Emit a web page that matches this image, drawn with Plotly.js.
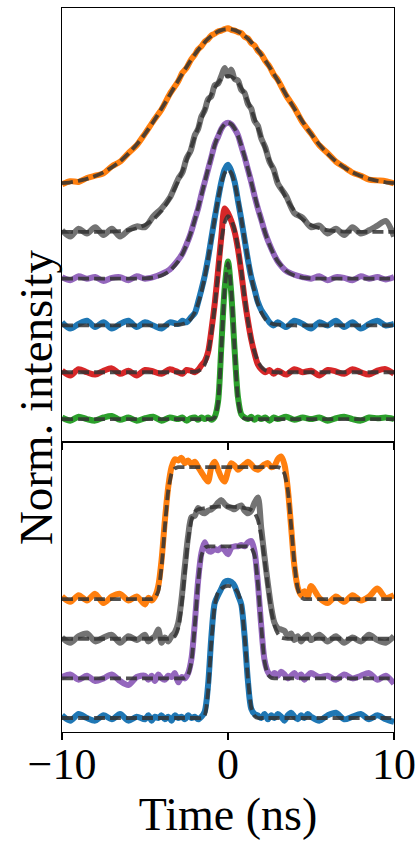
<!DOCTYPE html>
<html><head><meta charset="utf-8">
<script src="https://cdn.plot.ly/plotly-3.0.1.min.js"></script>
<style>html,body{margin:0;padding:0;background:#fff;}#chart{width:420px;height:842px;}</style>
</head><body><div id="chart"></div>
<script>
// ---------- TOP PANEL (Gaussian pulses) ----------
const tTop = [-10,-9.5,-9,-8.5,-8,-7.5,-7,-6.5,-6,-5.5,-5,-4.5,-4,-3.5,-3,
  -2.75,-2.5,-2.25,
  -2,-1.8,-1.6,-1.4,-1.2,-1,-0.8,-0.6,-0.4,-0.2,0,0.2,0.4,0.6,0.8,1,1.2,1.4,1.6,1.8,2,
  2.25,2.5,2.75,
  3,3.5,4,4.5,5,5.5,6,6.5,7,7.5,8,8.5,9,9.5,10];

const topOffsets = [0, 0.3, 0.6, 0.9, 1.2, 1.5]; // green, red, blue, purple, gray, orange

const greenFit = [0,0,0,0,0,0,0,0,0,0,0,0,0,0,0,
  0,0,0,
  0,0,0,0,0,0,.01,.10,.45,.83,1,.82,.45,.13,.02,.003,0,0,0,0,0,
  0,0,0,
  0,0,0,0,0,0,0,0,0,0,0,0,0,0,0];
const greenData = [.01,-.01,.015,0,-.01,.01,.02,-.005,.01,-.01,.005,.015,-.01,.01,0,
  .01,-.01,.005,
  .01,-.005,.01,0,.01,-.005,.015,.11,.47,.84,1.01,.80,.44,.14,.03,.01,0,.015,-.005,.01,0,
  .01,-.01,.01,
  0,.015,-.005,.01,0,.01,-.01,.005,.015,0,-.01,.01,.005,.01,0];

const redFit = [0,0,0,0,0,0,0,0,0,0,0,0,0,0,0,
  0,.001,.002,
  .003,.008,.02,.05,.12,.25,.42,.63,.84,.96,1,.975,.91,.80,.65,.48,.33,.21,.13,.07,.035,
  .012,.004,.001,
  0,0,0,0,0,0,0,0,0,0,0,0,0,0,0];
const redData = [.01,-.02,.02,0,-.015,.01,.025,-.01,.01,-.02,.015,.005,-.01,.02,0,
  -.01,.015,.01,
  0,.015,.045,.07,.13,.27,.44,.65,.87,1.05,1.02,.97,.90,.79,.64,.47,.33,.21,.12,.05,.02,
  0,.015,-.01,
  .01,-.015,.02,0,.01,-.02,.015,.005,-.01,.02,0,-.015,.01,.02,-.01];

const blueFit = [0,0,0,0,0,0,0,0,0,0,0,0,0,.001,.005,
  .008,.018,.04,
  .085,.14,.215,.31,.425,.553,.685,.808,.91,.977,1,.977,.91,.808,.685,.553,.425,.31,.215,.14,.085,
  .04,.018,.008,
  .005,.001,0,0,0,0,0,0,0,0,0,0,0,0,0];
const blueData = [.02,-.02,.01,.03,-.01,.02,-.02,.01,.03,-.01,.02,0,-.02,.02,.01,
  .03,.02,.05,
  .08,.15,.23,.32,.43,.56,.69,.81,.92,1.0,1.03,.99,.92,.80,.68,.55,.42,.31,.23,.15,.10,
  .06,.02,0,
  .02,-.01,.03,.01,-.02,.02,0,.03,-.01,.02,-.02,.01,.03,0,.01];

const purpleFit = [0,0,0,0,0,0,0,0,0,0,.002,.007,.02,.05,.111,
  .157,.217,.29,
  .376,.453,.535,.619,.703,.783,.855,.916,.962,.99,1,.99,.962,.916,.855,.783,.703,.619,.535,.453,.376,
  .29,.217,.157,
  .111,.05,.02,.007,.002,0,0,0,0,0,0,0,0,0,0];
const purpleData = [.01,-.01,.015,0,.01,-.015,.005,.01,-.01,.015,0,.01,.03,.06,.12,
  .16,.22,.29,
  .38,.45,.54,.62,.70,.78,.86,.91,.96,.99,1.0,.99,.96,.92,.85,.78,.70,.62,.53,.45,.38,
  .29,.22,.16,
  .11,.05,.025,.01,0,.015,-.01,.01,.005,-.01,.015,0,.01,-.005,.01];

const grayFit = [0,0,0,0,0,.001,.002,.005,.011,.023,.044,.080,.135,.216,.325,
  .389,.458,.531,
  .607,.667,.726,.783,.835,.882,.923,.956,.980,.995,1,.995,.980,.956,.923,.882,.835,.783,.726,.667,.607,
  .531,.458,.389,
  .325,.216,.135,.080,.044,.023,.011,.005,.002,.001,0,0,0,0,0];
const grayData = [.01,-.03,.02,-.01,.03,-.02,.02,-.03,.01,.035,.03,.10,.15,.22,.34,
  .38,.47,.52,
  .62,.66,.74,.78,.85,.87,.94,.95,1.0,1.05,1.0,1.04,.98,.97,.91,.89,.82,.79,.71,.68,.60,
  .54,.45,.40,
  .31,.23,.12,.09,.03,.04,-.01,.02,-.02,.03,-.01,.01,.04,.07,-.03];

const orangeFit = [.012,.018,.027,.040,.058,.082,.113,.152,.201,.260,.328,.406,.490,.579,.670,
  .714,.757,.798,
  .837,.866,.892,.916,.938,.956,.972,.984,.993,.998,1,.998,.993,.984,.972,.956,.938,.916,.892,.866,.837,
  .798,.757,.714,
  .670,.579,.490,.406,.328,.260,.201,.152,.113,.082,.058,.040,.027,.018,.012];
const orangeData = [.005,.025,.02,.045,.06,.075,.12,.15,.205,.255,.33,.41,.485,.585,.665,
  .72,.75,.80,
  .835,.87,.89,.92,.935,.96,.97,.985,.99,1.0,1.005,.995,.99,.98,.975,.95,.94,.91,.895,.86,.84,
  .795,.76,.71,
  .675,.575,.495,.40,.33,.255,.205,.15,.115,.08,.06,.035,.03,.025,.01];

// ---------- BOTTOM PANEL (flat-top pulses) ----------
const tBot = [-10,-9.5,-9,-8.5,-8,-7.5,-7,-6.5,-6,-5.5,-5,
  -4.8,-4.6,-4.4,-4.2,-4.0,-3.8,-3.6,-3.4,-3.2,-3.0,
  -2.8,-2.6,-2.4,-2.2,-2.0,-1.8,-1.6,-1.4,-1.2,-1.0,
  -0.8,-0.6,-0.4,-0.2,0,0.2,0.4,0.6,0.8,1.0,
  1.2,1.4,1.6,1.8,2.0,2.2,2.4,2.6,2.8,3.0,
  3.2,3.4,3.6,3.8,4.0,4.2,4.4,4.6,4.8,
  5,5.5,6,6.5,7,7.5,8,8.5,9,9.5,10];

const botOffsets = [0, 0.3, 0.6, 0.9]; // blue, purple, gray, orange

const bBlueFit = [0,0,0,0,0,0,0,0,0,0,0,
  0,0,0,0,0,0,0,0,0,0,
  0,0,0,0,0,0,0,.02,.2,.58,
  .85,.95,.98,.995,1,.995,.98,.95,.86,.62,
  .3,.08,.015,0,0,0,0,0,0,0,
  0,0,0,0,0,0,0,0,0,
  0,0,0,0,0,0,0,0,0,0,0];
const bBlueData = [.02,-.02,.03,0,-.02,.02,-.01,.03,-.02,.01,-.01,
  .02,-.02,.01,0,.02,-.01,.01,-.02,.02,0,
  .01,-.01,.02,0,.01,-.01,.01,.05,.25,.62,
  .87,.93,.98,1.03,1.04,1.03,1.0,.93,.86,.62,
  .28,.07,.03,.02,0,.03,-.01,.02,0,.03,
  .01,-.02,.02,.04,.01,-.01,.02,0,.03,
  .01,-.02,.02,.04,-.01,.01,.03,-.01,.02,-.01,-.03];

const bPurpleFit = [0,0,0,0,0,0,0,0,0,0,0,
  0,0,0,0,0,0,0,0,0,0,
  0,.005,.03,.13,.4,.72,.93,.99,1,1,
  1,1,1,1,1,1,1,1,1,1,
  1,.99,.93,.72,.4,.13,.03,.005,0,0,
  0,0,0,0,0,0,0,0,0,
  0,0,0,0,0,0,0,0,0,0,0];
const bPurpleData = [.01,.03,-.01,.02,-.02,0,.03,-.02,-.05,.01,.02,
  -.01,.02,-.02,.03,0,-.01,.02,.01,.04,-.03,
  .01,0,.04,.15,.42,.74,.95,1.03,.97,.96,
  .98,.97,.99,.97,.94,.99,1.0,1.0,1.01,1.0,
  1.03,1.04,.96,.72,.4,.14,.05,.02,.04,.02,
  .05,.03,0,.02,.04,.01,.03,-.01,.02,
  .04,.01,.02,-.01,.03,0,.02,.04,-.01,.02,-.04];

const bGrayFit = [0,0,0,0,0,0,0,0,0,0,0,
  0,0,0,0,0,0,0,.005,.02,.08,
  .25,.5,.75,.9,.96,.98,.985,.99,.993,.996,
  .998,1,1,1,1,1,.998,.996,.993,.99,
  .985,.975,.955,.9,.78,.6,.4,.22,.1,.04,
  .01,.003,0,0,0,0,0,0,0,
  0,0,0,0,0,0,0,0,0,0,0];
const bGrayData = [.01,-.03,.02,.04,-.02,.01,.03,-.03,.02,-.01,.03,
  -.02,0,.02,.07,-.03,.01,-.02,.02,.05,.12,
  .3,.55,.78,.92,.93,.99,.96,.95,.97,.98,
  1.0,1.03,1.05,1.02,1.0,.99,.98,1.0,1.01,.97,
  .95,.97,1.03,1.07,.84,.62,.42,.24,.12,.08,
  .07,.06,.02,.04,-.01,.02,-.02,.01,.03,
  -.01,.03,-.02,.02,-.03,.01,-.02,.03,-.01,-.03,.02];

const bOrangeFit = [0,0,0,0,0,0,0,0,0,0,0,
  0,0,.01,.06,.25,.55,.82,.95,.99,1,
  1,1,1,1,1,1,1,1,1,1,
  1,1,1,1,1,1,1,1,1,1,
  1,1,1,1,1,1,1,1,1,1,
  .99,.95,.83,.56,.27,.08,.015,0,0,
  0,0,0,0,0,0,0,0,0,0,0];
const bOrangeData = [.02,-.02,.03,-.01,.04,-.03,.02,.04,-.01,.02,-.04,
  .01,-.01,.02,.10,.30,.60,.85,1.0,1.06,1.05,
  1.07,1.03,1.05,1.02,1.04,1.0,.96,.92,.89,1.0,
  1.04,.98,.92,.89,.97,1.03,1.01,.98,1.0,1.02,
  1.04,1.02,.99,.98,1.0,1.02,1.03,1.0,1.01,1.06,
  1.08,1.02,.84,.55,.25,.09,.03,.06,.02,
  .10,.01,-.03,.02,-.02,.03,-.01,.02,.08,.01,.03];

const xTickVals = [-10, 0, 10];
const xTickText = ['\u221210', '0', '10'];

// ---------- build ----------
const topSeries = [
  ['#2ca02c', greenData, greenFit],
  ['#d62728', redData, redFit],
  ['#1f77b4', blueData, blueFit],
  ['#9467bd', purpleData, purpleFit],
  ['#737373', grayData, grayFit],
  ['#ff7f0e', orangeData, orangeFit]
];
const botSeries = [
  ['#1f77b4', bBlueData, bBlueFit],
  ['#9467bd', bPurpleData, bPurpleFit],
  ['#737373', bGrayData, bGrayFit],
  ['#ff7f0e', bOrangeData, bOrangeFit]
];
topSeries.forEach(s => { if (s[1].length !== tTop.length || s[2].length !== tTop.length) throw new Error('top len ' + s[0] + ' ' + s[1].length + ' ' + s[2].length); });
botSeries.forEach(s => { if (s[1].length !== tBot.length || s[2].length !== tBot.length) throw new Error('bot len ' + s[0] + ' ' + s[1].length + ' ' + s[2].length); });

const fitLine = {color: 'rgba(50,50,50,0.85)', width: 3.8, dash: '11px,5px', shape: 'spline', smoothing: 0.6};
const traces = [];
function addPanel(series, t, offs, xa, ya) {
  for (let i = series.length - 1; i >= 0; i--) {
    const [col, data, fit] = series[i];
    traces.push({x: t, y: data.map(v => v + offs[i]), xaxis: xa, yaxis: ya, type: 'scatter', mode: 'lines',
      line: {color: col, width: 6, shape: 'spline', smoothing: 0.8}, hoverinfo: 'skip', showlegend: false});
    traces.push({x: t, y: fit.map(v => v + offs[i]), xaxis: xa, yaxis: ya, type: 'scatter', mode: 'lines',
      line: fitLine, hoverinfo: 'skip', showlegend: false});
  }
}
addPanel(topSeries, tTop, topOffsets, 'x2', 'y2');
addPanel(botSeries, tBot, botOffsets, 'x', 'y');

const serif = 'Liberation Serif, Times New Roman, serif';
const split = 290 / 724;
const axLine = {showline: true, linecolor: '#000', linewidth: 1.3, mirror: true, showgrid: false, zeroline: false};
const layout = {
  width: 420, height: 842,
  margin: {l: 62, r: 26, t: 8, b: 110},
  paper_bgcolor: '#fff', plot_bgcolor: '#fff',
  font: {family: serif, size: 46, color: '#000'},
  showlegend: false,
  xaxis: Object.assign({}, axLine, {anchor: 'y', range: [-10, 10], tickvals: xTickVals, ticktext: xTickText,
    ticks: 'outside', ticklen: 7, tickwidth: 1.3, tickcolor: '#000', tickfont: {family: serif, size: 44},
    ticklabelstandoff: -14,
    title: {text: 'Time (ns)', font: {family: serif, size: 46}, standoff: 6}, automargin: false}),
  xaxis2: Object.assign({}, axLine, {anchor: 'y2', matches: 'x', range: [-10, 10], tickvals: xTickVals,
    showticklabels: false, ticks: 'outside', ticklen: 7, tickwidth: 1.3, tickcolor: '#000'}),
  yaxis: Object.assign({}, axLine, {domain: [0, split], range: [-0.106, 2.09], showticklabels: false, ticks: ''}),
  yaxis2: Object.assign({}, axLine, {domain: [split, 1], range: [-0.147, 2.635], showticklabels: false, ticks: ''}),
  annotations: [{text: 'Norm. intensity', textangle: -90, xref: 'paper', yref: 'paper',
    x: -0.078, y: 0.4627, xanchor: 'center', yanchor: 'middle', showarrow: false,
    font: {family: serif, size: 47, color: '#000'}}]
};
Plotly.newPlot('chart', traces, layout, {staticPlot: true, displayModeBar: false});
</script>
</body></html>
